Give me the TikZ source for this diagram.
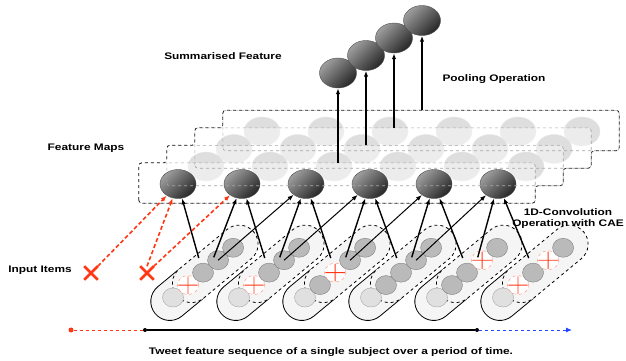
\documentclass[tikz,border=0pt]{standalone}
\usepackage{fontspec}
\newfontfamily\lblfont{Liberation Sans}[FakeStretch=1.25]
\usetikzlibrary{arrows.meta,shapes.geometric,shapes.misc}
\definecolor{xred}{RGB}{255,55,20}
\definecolor{tblue}{RGB}{35,70,255}
\tikzset{
  lbl/.style={font=\lblfont\bfseries\fontsize{9.5}{11}\selectfont, inner sep=0pt, align=center},
  layer/.style={rectangle, rounded corners=3pt, minimum width=396pt, minimum height=40pt, inner sep=0pt, fill=white, fill opacity=0.45},
  layeredge/.style={draw=black!35, dashed, rounded corners=3pt, line width=0.6pt},
  stack/.style={draw=black!85, dashed, rounded corners=3pt, line width=0.8pt},
  fback/.style={ellipse, minimum width=36pt, minimum height=29pt, inner sep=0pt, fill=black!13, draw=black!9},
  fmap/.style={ellipse, minimum width=36pt, minimum height=29pt, inner sep=0pt, draw=black!70, top color=black!38, bottom color=black!85, shading angle=45},
  summ/.style={fmap, minimum width=37pt, minimum height=30pt},
  itemG/.style={ellipse, minimum width=21pt, minimum height=19pt, inner sep=0pt, fill=black!27, draw=black!50},
  itemL/.style={itemG, fill=black!12, draw=black!35},
  itemX/.style={itemG, fill=white, draw=xred!60, dashed,
    append after command={(\tikzlastnode.north) edge[xplus] (\tikzlastnode.south) (\tikzlastnode.west) edge[xplus] (\tikzlastnode.east)}},
  xplus/.style={draw=xred, solid, line width=0.9pt, shorten <=1pt, shorten >=1pt},
  capsolid/.style={draw=black, fill=black!4, rounded corners=19pt, line width=0.8pt},
  capdash/.style={draw=black, dashed, fill=black!4, rounded corners=19pt, line width=0.8pt},
  conv/.style={-{Latex[length=6pt,width=4.5pt]}, line width=1.4pt},
  convlong/.style={conv, line width=1pt},
  dropin/.style={-{Latex[length=6pt,width=4.5pt]}, draw=xred, line width=1.6pt, dash pattern=on 4pt off 2.5pt},
  pool/.style={-{Latex[length=6pt,width=4.5pt]}, line width=1.4pt},
  xin/.style={cross out, draw=xred, line width=2.6pt, minimum size=11pt, inner sep=0pt},
  tdot/.style={circle, fill, inner sep=0pt, minimum size=4pt}
}
\begin{document}
\begin{tikzpicture}[x=1pt,y=-1pt]
\useasboundingbox (0,0) rectangle (626,360);

\foreach \g/\a/\b/\c/\d in {1/X/G/G/G,2/X/G/G/G,3/G/X/G/G,4/G/G/G/G,5/G/G/X/G,6/X/G/X/G}{
  \begin{scope}[shift={({173+66*(\g-1)},297.5)},rotate=39.6]
    \draw[capsolid] (-24,-18) rectangle (40,20);
    \draw[capdash] (4,-18) rectangle (104,20);
    \node[itemL] (g\g i0) at (0,0) {};
    \node[item\a] (g\g i1) at (19.5,0) {};
    \node[item\b] (g\g i2) at (39,0) {};
    \node[item\c] (g\g i3) at (58.5,0) {};
    \node[item\d] (g\g i4) at (78,0) {};
    \coordinate (g\g p) at (45,-14);
    \coordinate (g\g q) at (57,-5);
  \end{scope}
}

\foreach \k in {4,3,2}{
  \node[layer] (l\k) at ({337+28*(\k-1)},{183-17.5*(\k-1)}) {};
  \foreach \j in {1,...,6}
    \node[fback] (l\k c\j) at ({178+64*(\j-1)+28*(\k-1)},{184-17.5*(\k-1)}) {};
}
\node[layer] (l1) at (337,183) {};
\foreach \j in {1,...,6}
  \node[fmap] (f\j) at ({178+64*(\j-1)},184) {};
\foreach \k in {1,...,4}
  \draw[layeredge] (l\k.south west) rectangle (l\k.north east);
\draw[stack] (l1.south west) -- (l1.north west) -- (l1.north west -| l2.west) -- (l2.north west)
  -- (l2.north west -| l3.west) -- (l3.north west) -- (l3.north west -| l4.west) -- (l4.north west)
  -- (l4.north east) -- (l4.south east) -- (l4.south east -| l3.east) -- (l3.south east)
  -- (l3.south east -| l2.east) -- (l2.south east) -- (l2.south east -| l1.east) -- (l1.south east) -- cycle;

\foreach \k in {1,...,4}{
  \node[summ] (s\k) at ({338+28*(\k-1)},{73-17.5*(\k-1)}) {};
  \draw[pool, line width={1.4pt+0.8pt*(\k==4)}] (s\k |- l\k.north) -- (s\k);
}

\foreach \g in {1,...,6}
  \draw[conv] (g\g p) -- (f\g);
\foreach \g [evaluate=\g as \n using int(\g+1)] in {1,...,5}
  \draw[conv] (g\g q) -- (f\n);
\foreach \g [evaluate=\g as \n using int(\g+2)] in {1,...,4}
  \draw[convlong] (g\g i3.center) -- (f\n);

\node[xin] (x1) at (91,273) {};
\node[xin] (x2) at (147,273) {};
\draw[dropin] (x1.north east) -- (f1);
\draw[dropin] (x2.north) -- (f1);
\draw[dropin] (x2.north east) -- (f2);

\node[tdot, xred, minimum size=5pt] (t0) at (71,330) {};
\node[tdot] (t1) at (145,330) {};
\node[tdot] (t2) at (477,330) {};
\coordinate (t3) at (572,330);
\draw[xred, dashed, line width=1pt] (t0) -- (t1);
\draw[line width=1.2pt] (t1) -- (t2);
\draw[tblue, dashed, line width=1pt, -{Latex[length=6pt,width=5pt]}] (t2) -- (t3);

\node[lbl] (tsum) at (223,56) {Summarised Feature};
\node[lbl] (tpool) at (494,79) {Pooling Operation};
\node[lbl] (tfm) at (86,148) {Feature Maps};
\node[lbl] (tconv) at (568,218.5) {1D-Convolution\\Operation with CAE};
\node[lbl] (tin) at (40,270) {Input Items};
\node[lbl] (tseq) at (331,352) {Tweet feature sequence of a single subject over a period of time.};
\end{tikzpicture}
\end{document}
